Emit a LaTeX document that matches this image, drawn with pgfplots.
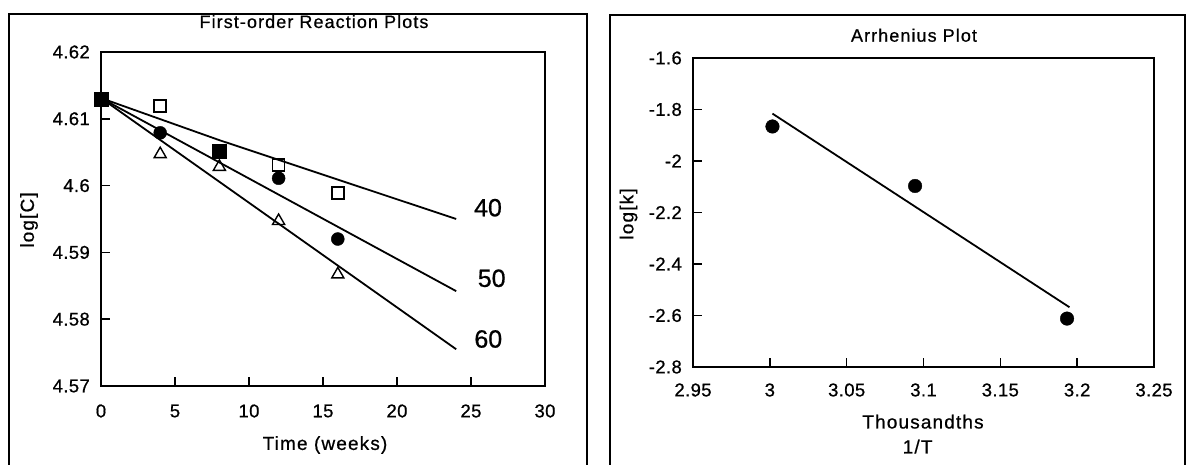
\documentclass[border=0pt]{standalone}
\usepackage{pgfplots}
\pgfplotsset{compat=1.18}
\usepackage{fontspec}
\setmainfont{Liberation Sans}[FakeBold=0.7]
\newfontfamily\tickfont{Liberation Sans}[LetterSpace=2, FakeBold=0.7]
\newfontfamily\labfont{Liberation Sans}[LetterSpace=6, FakeBold=0.7]
\begin{document}
\begin{tikzpicture}[x=1pt,y=1pt]
\useasboundingbox (0,0) rectangle (1186,465);
% panel frames
\draw[line width=2pt] (9,0) -- (9,451) -- (587,451) -- (587,0);
\draw[line width=2pt] (610,0) -- (610,450) -- (1185,450) -- (1185,0);
\pgfplotsset{
  myaxis/.style={
    anchor=south west, scale only axis,
    tick align=inside, tick pos=left,
    major tick length=9pt,
    axis line style={line width=1.9pt},
    every tick/.style={black, line width=1.5pt},
    tick label style={font=\fontsize{18.5}{18.5}\selectfont\tickfont},
    xticklabel style={anchor=center, yshift=-25pt},
    yticklabel style={anchor=east, inner sep=0pt, xshift=-11pt},
    clip=false,
  }
}
% ---------------- left: first-order plots
\begin{axis}[myaxis, at={(101pt,79pt)}, width=444pt, height=334pt,
  xmin=0, xmax=30, ymin=4.57, ymax=4.62,
  xtick={0,5,10,15,20,25,30}, xticklabels={0,5,10,15,20,25,30},
  ytick={4.57,4.58,4.59,4.60,4.61,4.62},
  yticklabels={4.57,4.58,4.59,4.6,4.61,4.62}]
% fitted lines
\addplot[black, line width=1.8pt] coordinates {(0,4.6131) (8,4.6068) (16,4.6009) (24,4.5950)};
\addplot[black, line width=1.8pt] coordinates {(0,4.6131) (24,4.5842)};
\addplot[black, line width=1.8pt] coordinates {(0,4.6131) (24,4.5755)};
% 60 C : open triangles
\addplot[only marks, mark=triangle, mark size=7pt, mark options={black, line width=1.4pt, fill=white}]
  coordinates {(4,4.6047) (8,4.6028) (12,4.5947) (16,4.5867)};
% 40 C : open squares
\addplot[only marks, mark=square, mark size=6pt, mark options={black, line width=1.5pt, fill=white}]
  coordinates {(4,4.6119) (12,4.6031) (16,4.5989)};
% 50 C : filled circles
\addplot[only marks, mark=*, mark size=6.5pt, mark options={black, fill=black}]
  coordinates {(4,4.6079) (12,4.6011) (16,4.5920)};
% coincident points : filled squares
\addplot[only marks, mark=square*, mark size=7pt, mark options={black, fill=black}]
  coordinates {(0,4.6130) (8,4.6052)};
\end{axis}
% ---------------- right: Arrhenius plot
\begin{axis}[myaxis, at={(693pt,98pt)}, width=461pt, height=309pt,
  xmin=2.95, xmax=3.25, ymin=-2.8, ymax=-1.6,
  xtick={2.95,3.00,3.05,3.10,3.15,3.20,3.25},
  xticklabels={2.95,3,3.05,3.1,3.15,3.2,3.25},
  ytick={-2.8,-2.6,-2.4,-2.2,-2.0,-1.8,-1.6},
  yticklabels={-2.8,-2.6,-2.4,-2.2,-2,-1.8,-1.6},
  xticklabel style={yshift=2pt}]
\addplot[black, line width=1.8pt] coordinates {(3.0017,-1.816) (3.1950,-2.568)};
\addplot[only marks, mark=*, mark size=6.8pt, mark options={black, fill=black}]
  coordinates {(3.0017,-1.866) (3.0945,-2.097) (3.1934,-2.612)};
\end{axis}
% ---------------- texts
\node[anchor=base, font=\fontsize{18}{18}\selectfont\labfont] at (314,437) {First-order Reaction Plots};
\node[font=\fontsize{19}{19}\selectfont\labfont] at (325,20) {Time (weeks)};
\node[rotate=90, font=\fontsize{19}{19}\selectfont\labfont] at (29,245) {log[C]};
\node[font=\fontsize{25}{25}\selectfont] at (488,257.3) {40};
\node[font=\fontsize{25}{25}\selectfont] at (491.7,186.7) {50};
\node[font=\fontsize{25}{25}\selectfont] at (488.3,126) {60};
\node[anchor=base, font=\fontsize{18}{18}\selectfont\labfont] at (914,423.3) {Arrhenius Plot};
\node[rotate=90, font=\fontsize{19}{19}\selectfont\labfont] at (628.5,251) {log[k]};
\node[font=\fontsize{19}{19}\selectfont\labfont] at (923,43.3) {Thousandths};
\node[font=\fontsize{19}{19}\selectfont\labfont] at (917.6,18.3) {1/T};
\end{tikzpicture}
\end{document}
